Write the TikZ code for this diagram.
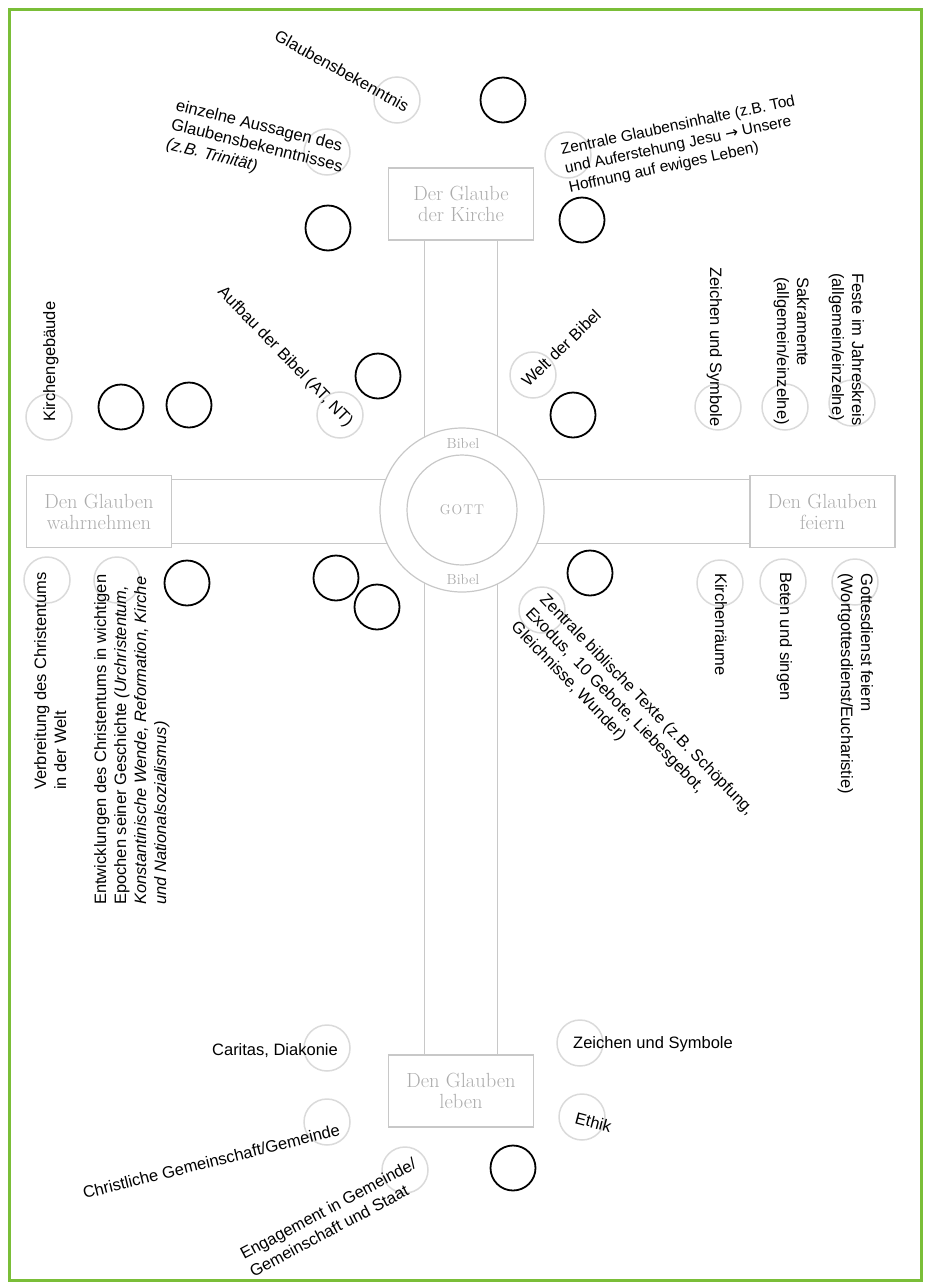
\documentclass[tikz,border=0pt]{standalone}
\usepackage{fontspec}
\newfontfamily\lblf{Liberation Sans}
\newfontfamily\arrowf{DejaVu Sans}
\definecolor{framegreen}{RGB}{122,190,56}
\definecolor{boxgray}{RGB}{172,172,172}
\definecolor{linegray}{RGB}{200,200,200}
\definecolor{ringgray}{RGB}{218,218,218}
\newcommand{\mlines}[2][l]{\begin{tabular}[t]{@{}#1@{}}#2\end{tabular}}
\begin{document}
\begin{tikzpicture}[x=1pt,y=-1pt,
  lbl/.style={inner sep=0pt, font=\lblf\fontsize{16.5}{20}\selectfont, text=black},
  kbox/.style={draw=linegray, line width=1.2pt, minimum width=145pt, minimum height=72pt, inner sep=0pt, align=center, text=boxgray, font=\fontsize{20.5}{21}\selectfont},
  bc/.style={circle, draw=black, line width=1.8pt, minimum size=45pt, inner sep=0pt},
  gc/.style={circle, draw=ringgray, line width=1.5pt, minimum size=46pt, inner sep=0pt},
  bar/.style={draw=linegray, line width=1.2pt},
  ring/.style={circle, draw=linegray, line width=1.2pt, inner sep=0pt}]
\useasboundingbox (0,0) rectangle (929,1288);
\draw[framegreen, line width=3pt] (9,9) rectangle (921,1280);

% boxes
\node[kbox] (kirche) at (461,204) {Der Glaube\\der Kirche};
\node[kbox] (wahr) at (99,511.5) {Den Glauben\\wahrnehmen};
\node[kbox] (feiern) at (822.5,511.5) {Den Glauben\\feiern};
\node[kbox] (leben) at (461,1091) {Den Glauben\\leben};

% cross bars
\draw[bar] ([xshift=-36.5pt]kirche.south) -- ([xshift=-36.5pt]leben.north);
\draw[bar] ([xshift=36.5pt]kirche.south) -- ([xshift=36.5pt]leben.north);
\draw[bar] ([yshift=32pt]wahr.east) -- ([yshift=32pt]feiern.west);
\draw[bar] ([yshift=-32pt]wahr.east) -- ([yshift=-32pt]feiern.west);

% centre
\node[ring, fill=white, minimum size=164pt] (bibel) at (462,510) {};
\node[ring, minimum size=110pt, text=boxgray, font=\fontsize{14}{14}\selectfont] (gott) at (462,510) {G\kern1ptO\kern1ptT\kern1ptT};
\node[inner sep=0pt, text=boxgray, font=\fontsize{14.5}{15}\selectfont] (bibtop) at (463,444) {Bibel};
\node[inner sep=0pt, text=boxgray, font=\fontsize{14.5}{15}\selectfont] (bibbot) at (463,580) {Bibel};

% grey circles
\node[gc] (g1) at (397,100) {};
\node[gc] (g2) at (327,152) {};
\node[gc] (g3) at (568,155) {};
\node[gc] (g4) at (49,417) {};
\node[gc] (g5) at (340,415) {};
\node[gc] (g6) at (533,375) {};
\node[gc] (g7) at (718,407) {};
\node[gc] (g8) at (785,407) {};
\node[gc] (g9) at (852,403) {};
\node[gc] (g10) at (47,580) {};
\node[gc] (g11) at (117,580) {};
\node[gc] (g12) at (542,610) {};
\node[gc] (g13) at (720,583) {};
\node[gc] (g14) at (783,582) {};
\node[gc] (g15) at (855,582) {};
\node[gc] (g16) at (327,1048) {};
\node[gc] (g17) at (327,1122) {};
\node[gc] (g18) at (405,1170) {};
\node[gc] (g19) at (580,1043) {};
\node[gc] (g20) at (582,1117) {};

% black circles
\node[bc] (b1) at (503,100) {};
\node[bc] (b2) at (582,220) {};
\node[bc] (b3) at (328,228) {};
\node[bc] (b4) at (121,407) {};
\node[bc] (b5) at (189,405) {};
\node[bc] (b6) at (378,376) {};
\node[bc] (b7) at (573,415) {};
\node[bc] (b8) at (187,583) {};
\node[bc] (b9) at (336,578) {};
\node[bc] (b10) at (377,607) {};
\node[bc] (b11) at (590,573) {};
\node[bc] (b12) at (513,1168) {};

% labels
\node[lbl, rotate=-29] (t1) at (342,71) {Glaubensbekenntnis};
\node[lbl, rotate=-14, anchor=base west] (t2) at (175,110) {\mlines{einzelne Aussagen des\\Glaubensbekenntnisses\\\itshape (z.B. Trinität)}};
\node[lbl, rotate=12, anchor=base west, font=\lblf\fontsize{15.5}{19}\selectfont] (t3) at (562,155) {\mlines{Zentrale Glaubensinhalte (z.B. Tod\\und Auferstehung Jesu {\arrowf →} Unsere\\Hoffnung auf ewiges Leben)}};
\node[lbl, rotate=-46] (t4) at (285,357) {Aufbau der Bibel (AT, NT)};
\node[lbl, rotate=44] (t5) at (561,348) {Welt der Bibel};
\node[lbl, rotate=90, anchor=base west] (t6) at (55,422) {Kirchengebäude};
\node[lbl, rotate=-90, anchor=base west] (t7) at (710,267) {Zeichen und Symbole};
\node[lbl, rotate=-90, anchor=base west] (t8) at (797,277) {\mlines{Sakramente\\(allgemein/einzelne)}};
\node[lbl, rotate=-90, anchor=base west] (t9) at (852,273) {\mlines{Feste im Jahreskreis\\(allgemein/einzelne)}};
\node[lbl, rotate=90, anchor=base west] (t10) at (46,790) {\mlines{Verbreitung des Christentums\\in der Welt}};
\node[lbl, rotate=90, anchor=base west] (t11) at (106,905) {\mlines{Entwicklungen des Christentums in wichtigen\\Epochen seiner Geschichte \itshape(Urchristentum,\\\itshape Konstantinische Wende, Reformation, Kirche\\\itshape und Nationalsozialismus)}};
\node[lbl, rotate=-46, anchor=base west] (t12) at (539,600) {\mlines{Zentrale biblische Texte (z.B. Schöpfung,\\Exodus,~ 10 Gebote, Liebesgebot,\\Gleichnisse, Wunder)}};
\node[lbl, rotate=-90, anchor=base west] (t13) at (715,573) {Kirchenräume};
\node[lbl, rotate=-90, anchor=base west] (t14) at (780,572) {Beten und singen};
\node[lbl, rotate=-90, anchor=base west] (t15) at (861,573) {\mlines{Gottesdienst feiern\\(Wortgottesdienst/Eucharistie)}};
\node[lbl, anchor=base east] (t16) at (338,1055) {Caritas, Diakonie};
\node[lbl, rotate=14, anchor=base east] (t17) at (341,1135) {Christliche Gemeinschaft/Gemeinde};
\node[lbl, rotate=28, anchor=base west] (t18) at (244,1260) {\mlines{Engagement in Gemeinde/\\Gemeinschaft und Staat}};
\node[lbl, anchor=base west] (t19) at (573,1048) {Zeichen und Symbole};
\node[lbl, rotate=-15, anchor=base west] (t20) at (574,1123) {Ethik};
\end{tikzpicture}
\end{document}
